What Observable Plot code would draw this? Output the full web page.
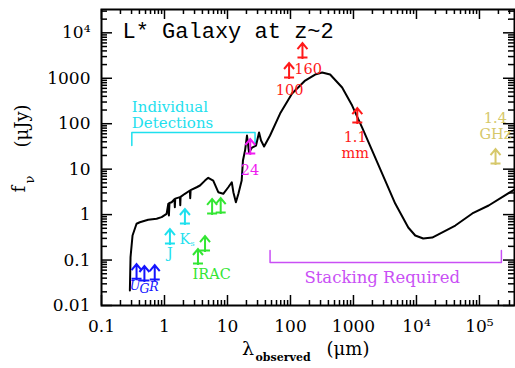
<!DOCTYPE html>
<html><head><meta charset="utf-8">
<script src="https://cdn.jsdelivr.net/npm/d3@7"></script>
<script src="https://cdn.jsdelivr.net/npm/@observablehq/plot@0.6"></script>
<style>body{margin:0;background:#fff}</style>
</head><body><div id="chart"></div>
<script>
// SED template (lambda observed in micron, f_nu in microJy)
const sedLambda = [0.282,0.289,0.311,0.36,0.406,0.55,0.75,0.90,1.08,1.15,1.175,1.20,1.30,1.44,1.46,1.48,1.76,1.78,1.80,2.11,2.53,2.56,2.60,3.24,3.66,4.39,4.95,5.94,7.14,8.57,10.3,11.7,12.4,13.6,14.9,16.8,17.6,19.0,20.4,22.0,24.5,28.4,31.7,34.1,38.1,47.4,68.4,106,171,246,318,426,661,953,1374,1982,3192,4597,7406,9560,12800,17800,41400,77100,140000,359000];
const sedFlux = [0.0214,0.116,0.347,0.63,0.68,0.77,0.81,0.88,1.04,1.73,0.96,1.80,1.87,2.2,1.46,2.25,2.42,1.6,2.45,2.87,3.39,2.3,3.45,4.0,4.37,5.6,6.46,5.6,3.11,2.87,4.0,5.16,3.11,1.87,2.87,5.6,15.5,25.7,55,23.2,29.9,33.1,64,42.7,31.5,55,167,461,891,1208,1337,1208,625,251,82,25.7,5.6,1.75,0.52,0.347,0.298,0.313,0.575,1.06,1.585,3.56];

// detection limits (lower-limit arrows)
const arrowBand   = ["U","G","R","J","Ks","3.6","4.5","5.8","8.0","24","100","160","1.1mm","1.4GHz"];
const arrowLambda = [0.36,0.48,0.70,1.22,2.11,3.4,4.4,5.7,7.8,23,95,155,1150,180000];
const arrowFlux   = [0.039,0.0355,0.0373,0.231,0.637,0.084,0.162,1.06,1.11,22.1,1040,2860,106,13.3];
const arrowGroup  = ["optical","optical","optical","nir","nir","irac","irac","irac","irac","mips","farir","farir","farir","radio"];

// band labels
const labelText   = ["J","K","IRAC","24","100","160","1.1","mm","1.4","GHz"];
const labelLambda = [1.22,2.11,5.6,22.8,96.8,190,1064,1064,179000,179000];
const labelFlux   = [0.139,0.283,0.048,9.3,537,1596,51,22.5,130,57.8];
const labelGroup  = ["nir","nir","irac","mips","farir","farir","farir","farir","radio","radio"];
const optText   = ["U","G","R"];
const optLambda = [0.34,0.48,0.68];
const optFlux   = [0.0262,0.0225,0.0249];
const subText = ["s"], subLambda = [2.78], subFlux = [0.231];

// brackets
const detectLambda = [0.303, 27.4], detectFlux = [64, 33];
const detectText = ["Individual","Detections"], detectTextFlux = [236, 102];
const stackLambda = [47.4, 223000], stackFlux = [0.0883, 0.162];
const stackText = ["Stacking Required"], stackTextLambda = [2856], stackTextFlux = [0.0413];

// ticks
const xTicks = [0.1,1,10,100,1000,1e4,1e5];
const xTickLabels = ["0.1","1","10","100","1000","10\u2074","10\u2075"];
const yTicks = [0.01,0.1,1,10,100,1000,1e4];
const yTickLabels = ["0.01","0.1","1","10","100","1000","10\u2074"];

const groups = ["optical","nir","irac","mips","farir","radio","stack"];
const groupColors = ["#1414ff","#1ee0ee","#33e633","#f01df0","#ff1a1a","#d6c86a","#c94ff5"];

const W = 515, H = 368, mL = 101, mR = 1, mT = 9, mB = 63;
const fw = W - mL - mR, fh = H - mT - mB;
const xDomain = [0.1, 3.6e5], yDomain = [0.01, 3.26e4];

function minors(majors, max) {
  const out = [];
  for (const m of majors) for (let k = 2; k <= 9; k++) if (k * m <= max) out.push(k * m);
  return out;
}
const xMinor = minors(xTicks, xDomain[1]);
const yMinor = minors(yTicks, yDomain[1]);

const sed = sedLambda.map((l, i) => ({l, f: sedFlux[i]}));
const arrows = arrowLambda.map((l, i) => ({l, f: arrowFlux[i], g: arrowGroup[i], b: arrowBand[i]}));
const labels = labelText.map((t, i) => ({t, l: labelLambda[i], f: labelFlux[i], g: labelGroup[i]}));
const opt = optText.map((t, i) => ({t, l: optLambda[i], f: optFlux[i]}));
const sub = subText.map((t, i) => ({t, l: subLambda[i], f: subFlux[i]}));
const detectPts = [
  {l: detectLambda[0], f: detectFlux[1]}, {l: detectLambda[0], f: detectFlux[0]},
  {l: detectLambda[1], f: detectFlux[0]}, {l: detectLambda[1], f: detectFlux[1]}];
const stackPts = [
  {l: stackLambda[0], f: stackFlux[1]}, {l: stackLambda[0], f: stackFlux[0]},
  {l: stackLambda[1], f: stackFlux[0]}, {l: stackLambda[1], f: stackFlux[1]}];
const detectLbl = detectText.map((t, i) => ({t, l: detectLambda[0], f: detectTextFlux[i]}));
const stackLbl = stackText.map((t, i) => ({t, l: stackTextLambda[i], f: stackTextFlux[i]}));

const arrowSymbol = {
  draw(ctx) {
    ctx.moveTo(-5, 0); ctx.lineTo(5, 0);
    ctx.moveTo(0, 1.5); ctx.lineTo(0, -14);
    ctx.moveTo(-5, -8.5); ctx.lineTo(0, -14.5); ctx.lineTo(5, -8.5);
  }
};

const xLab = new Map(xTicks.map((v, i) => [v, xTickLabels[i]]));
const yLab = new Map(yTicks.map((v, i) => [v, yTickLabels[i]]));
const serif = "DejaVu Serif";

const plot = Plot.plot({
  width: W, height: H,
  marginLeft: mL, marginRight: mR, marginTop: mT, marginBottom: mB,
  x: {type: "log", domain: xDomain},
  y: {type: "log", domain: yDomain},
  color: {domain: groups, range: groupColors},
  style: {fontFamily: serif, fontSize: "17px", background: "white", color: "black"},
  marks: [
    // inward ticks on all sides
    Plot.tickX(xTicks, {insetTop: fh - 10, stroke: "black", strokeWidth: 1.5}),
    Plot.tickX(xMinor, {insetTop: fh - 5, stroke: "black", strokeWidth: 1.5}),
    Plot.tickX(xTicks, {insetBottom: fh - 10, stroke: "black", strokeWidth: 1.5}),
    Plot.tickX(xMinor, {insetBottom: fh - 5, stroke: "black", strokeWidth: 1.5}),
    Plot.tickY(yTicks, {insetRight: fw - 11, stroke: "black", strokeWidth: 1.5}),
    Plot.tickY(yMinor, {insetRight: fw - 6, stroke: "black", strokeWidth: 1.5}),
    Plot.tickY(yTicks, {insetLeft: fw - 11, stroke: "black", strokeWidth: 1.5}),
    Plot.tickY(yMinor, {insetLeft: fw - 6, stroke: "black", strokeWidth: 1.5}),
    Plot.axisX({ticks: xTicks, tickFormat: d => xLab.get(d), tickSize: 0, tickPadding: 14, label: null, fontSize: 17}),
    Plot.axisY({ticks: yTicks, tickFormat: d => yLab.get(d), tickSize: 0, tickPadding: 11, label: null, fontSize: 17}),
    Plot.frame({stroke: "black", strokeWidth: 2}),
    // brackets
    Plot.line(detectPts, {x: "l", y: "f", stroke: groupColors[1], strokeWidth: 1.5}),
    Plot.line(stackPts, {x: "l", y: "f", stroke: groupColors[6], strokeWidth: 1.5}),
    Plot.text(detectLbl, {x: "l", y: "f", text: "t", fill: groupColors[1], textAnchor: "start", fontSize: 15}),
    Plot.text(stackLbl, {x: "l", y: "f", text: "t", fill: groupColors[6], fontSize: 16.5}),
    // SED
    Plot.line(sed, {x: "l", y: "f", stroke: "black", strokeWidth: 2, curve: "linear"}),
    // arrows
    Plot.dot(arrows, {x: "l", y: "f", stroke: "g", fill: "none", symbol: arrowSymbol, strokeWidth: 2}),
    Plot.text(labels, {x: "l", y: "f", text: "t", fill: "g", fontSize: 14.5}),
    Plot.text(opt, {x: "l", y: "f", text: "t", fill: groupColors[0], fontSize: 12.5, fontStyle: "italic"}),
    Plot.text(sub, {x: "l", y: "f", text: "t", fill: groupColors[1], fontSize: 8}),
    // title
    Plot.text(["L* Galaxy at z~2"], {frameAnchor: "top-left", dx: 21, dy: 21, textAnchor: "start", lineAnchor: "middle", fontFamily: "Liberation Mono", fontSize: 22}),
    // y label
    Plot.text(["f"], {frameAnchor: "left", dx: -82.5, dy: 35, rotate: -90, fontSize: 18}),
    Plot.text(["\u03bd"], {frameAnchor: "left", dx: -72, dy: 26, rotate: -90, fontSize: 13}),
    Plot.text(["(\u03bcJy)"], {frameAnchor: "left", dx: -79, dy: -10, rotate: -90, fontSize: 18}),
    // x label
    Plot.text(["\u03bb"], {frameAnchor: "bottom", dx: -60, dy: 49, fontSize: 19}),
    Plot.text(["observed"], {frameAnchor: "bottom", dx: -52.5, dy: 55, textAnchor: "start", fontSize: 11, fontWeight: "bold"}),
    Plot.text(["(\u03bcm)"], {frameAnchor: "bottom", dx: 40, dy: 49, fontSize: 18})
  ]
});
document.getElementById("chart").appendChild(plot);
</script></body></html>
